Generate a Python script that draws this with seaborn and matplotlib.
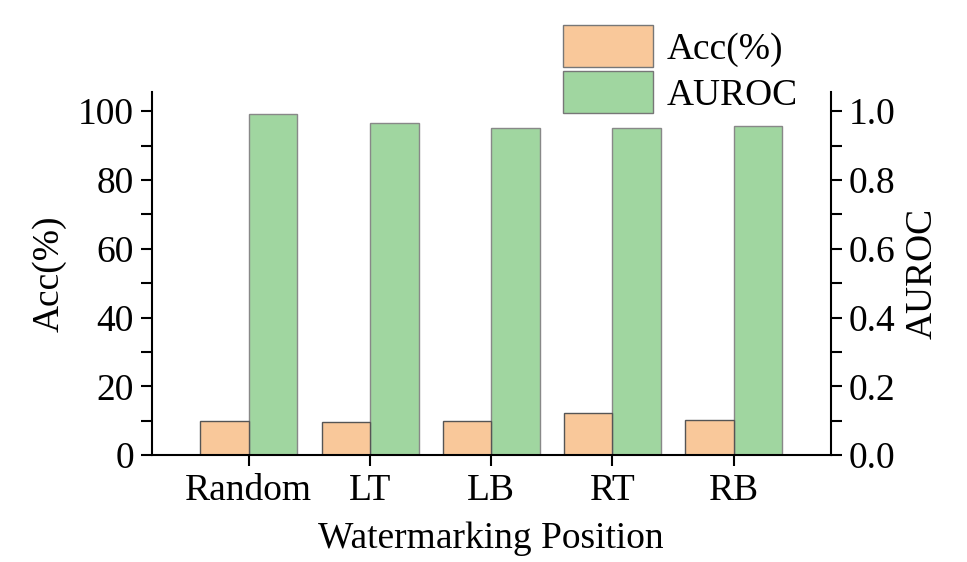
import matplotlib
matplotlib.use('Agg')
import matplotlib.pyplot as plt
from matplotlib.ticker import MultipleLocator
from matplotlib.patches import Patch
import pandas as pd
import seaborn as sns

# data
positions = ['Random', 'LT', 'LB', 'RT', 'RB']
acc = [10.0, 9.6, 10.0, 12.2, 10.1]
auroc = [0.992, 0.964, 0.951, 0.951, 0.956]

metrics = ['Acc(%)', 'AUROC']
colors = {'Acc(%)': '#F9C89A', 'AUROC': '#A0D6A0'}

df_acc = pd.DataFrame({'position': positions, 'value': acc, 'metric': 'Acc(%)'})
df_auc = pd.DataFrame({'position': positions, 'value': auroc, 'metric': 'AUROC'})

sns.set_style('ticks')
plt.rcParams['font.family'] = ['Liberation Serif', 'DejaVu Serif']
plt.rcParams['text.color'] = 'black'
plt.rcParams['axes.labelcolor'] = 'black'
plt.rcParams['xtick.color'] = 'black'
plt.rcParams['ytick.color'] = 'black'

fig = plt.figure(figsize=(9.67, 5.62), dpi=100)
ax = fig.add_axes([0.157, 0.190, 0.702, 0.646])
ax2 = ax.twinx()

sns.barplot(data=df_acc, x='position', y='value', hue='metric', hue_order=metrics,
            palette=colors, order=positions, width=0.8, dodge=True, saturation=1,
            errorbar=None, edgecolor='#555555', linewidth=1, legend=False, ax=ax)
sns.barplot(data=df_auc, x='position', y='value', hue='metric', hue_order=metrics,
            palette=colors, order=positions, width=0.8, dodge=True, saturation=1,
            errorbar=None, edgecolor='#888888', linewidth=1, legend=False, ax=ax2)

fs = 27
ax.set_xlim(-0.8, 4.8)
ax.set_ylim(0, 105.5)
ax2.set_ylim(0, 1.055)

ax.yaxis.set_major_locator(MultipleLocator(20))
ax.yaxis.set_minor_locator(MultipleLocator(10))
ax2.yaxis.set_major_locator(MultipleLocator(0.2))
ax2.yaxis.set_minor_locator(MultipleLocator(0.1))
ax2.set_yticks([0, 0.2, 0.4, 0.6, 0.8, 1.0])
ax2.set_yticklabels(['0.0', '0.2', '0.4', '0.6', '0.8', '1.0'])

ax.set_xlabel('Watermarking Position', fontsize=fs, labelpad=10)
ax.set_ylabel('Acc(%)', fontsize=fs, labelpad=8)
ax2.set_ylabel('AUROC', fontsize=fs, labelpad=7)

for a in (ax, ax2):
    a.tick_params(axis='both', which='major', direction='out', length=8, width=1.5,
                  labelsize=fs, pad=5)
    a.tick_params(axis='y', which='minor', direction='out', length=8, width=1.5)
    for s in a.spines.values():
        s.set_linewidth(1.5)
        s.set_color('black')
    a.spines['top'].set_visible(False)
    a.grid(False)

ax.spines['right'].set_visible(False)
ax2.spines['left'].set_visible(False)
ax2.spines['bottom'].set_visible(False)
ax.set_zorder(ax2.get_zorder() + 1)
ax.patch.set_visible(False)

handles = [Patch(facecolor=colors[m], edgecolor='#777777', linewidth=1, label=m) for m in metrics]
fig.legend(handles=handles, loc='upper left', bbox_to_anchor=(0.567, 0.982),
           frameon=False, fontsize=fs, handlelength=2.4, handleheight=1.35,
           handletextpad=0.35, labelspacing=0.1, borderaxespad=0)

fig.savefig('out.png', dpi=100)
